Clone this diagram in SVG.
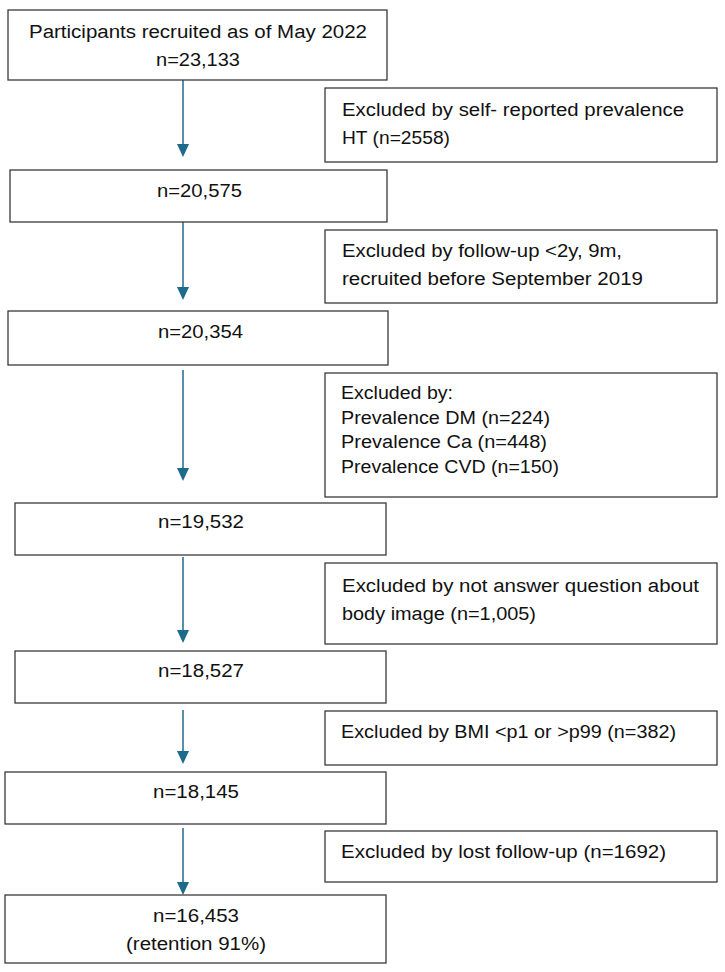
<svg xmlns="http://www.w3.org/2000/svg" width="725" height="972" viewBox="0 0 725 972">
<style>
.box{fill:#ffffff;stroke:#3a3a3a;stroke-width:1.3}
.t{font-family:"Liberation Sans",Arial,sans-serif;font-size:18px;fill:#111111}
.arr{stroke:#1c6a8c;stroke-width:1.5;fill:none}
.head{fill:#1c6a8c}
</style>
<rect width="725" height="972" fill="#ffffff"/>
<g id="connectors">
<line class="arr" x1="183" y1="80" x2="183" y2="145"/><path class="head" d="M177,144 L189,144 L183,157 Z"/>
<line class="arr" x1="183" y1="222" x2="183" y2="288"/><path class="head" d="M177,287 L189,287 L183,300 Z"/>
<line class="arr" x1="183" y1="370" x2="183" y2="469"/><path class="head" d="M177,468 L189,468 L183,481 Z"/>
<line class="arr" x1="183" y1="557" x2="183" y2="631"/><path class="head" d="M177,630 L189,630 L183,643 Z"/>
<line class="arr" x1="183" y1="710" x2="183" y2="752"/><path class="head" d="M177,751 L189,751 L183,764 Z"/>
<line class="arr" x1="183" y1="828" x2="183" y2="883"/><path class="head" d="M177,882 L189,882 L183,895 Z"/>
</g>
<g id="n1"><rect class="box" x="8" y="10" width="379" height="70"/>
<text class="t" x="29" y="38" textLength="338" lengthAdjust="spacingAndGlyphs">Participants recruited as of May 2022</text>
<text class="t" x="156" y="66" textLength="84" lengthAdjust="spacingAndGlyphs">n=23,133</text></g>
<g id="e1"><rect class="box" x="325" y="88" width="392" height="74"/>
<text class="t" x="342" y="116" textLength="342" lengthAdjust="spacingAndGlyphs">Excluded by self- reported prevalence</text>
<text class="t" x="342" y="144" textLength="108" lengthAdjust="spacingAndGlyphs">HT (n=2558)</text></g>
<g id="n2"><rect class="box" x="10" y="170" width="377" height="52"/>
<text class="t" x="157" y="197" textLength="85" lengthAdjust="spacingAndGlyphs">n=20,575</text></g>
<g id="e2"><rect class="box" x="325" y="230" width="392" height="73"/>
<text class="t" x="342" y="257" textLength="280" lengthAdjust="spacingAndGlyphs">Excluded by follow-up &lt;2y, 9m,</text>
<text class="t" x="342" y="285" textLength="301" lengthAdjust="spacingAndGlyphs">recruited before September 2019</text></g>
<g id="n3"><rect class="box" x="8" y="311" width="380" height="54"/>
<text class="t" x="158" y="338" textLength="85" lengthAdjust="spacingAndGlyphs">n=20,354</text></g>
<g id="e3"><rect class="box" x="325" y="373" width="392" height="124"/>
<text class="t" x="341" y="399" textLength="112" lengthAdjust="spacingAndGlyphs">Excluded by:</text>
<text class="t" x="341" y="424" textLength="209" lengthAdjust="spacingAndGlyphs">Prevalence DM (n=224)</text>
<text class="t" x="341" y="448" textLength="206" lengthAdjust="spacingAndGlyphs">Prevalence Ca (n=448)</text>
<text class="t" x="341" y="473" textLength="218" lengthAdjust="spacingAndGlyphs">Prevalence CVD (n=150)</text></g>
<g id="n4"><rect class="box" x="15" y="503" width="371" height="52"/>
<text class="t" x="158" y="528" textLength="86" lengthAdjust="spacingAndGlyphs">n=19,532</text></g>
<g id="e4"><rect class="box" x="325" y="563" width="392" height="81"/>
<text class="t" x="342" y="592" textLength="357" lengthAdjust="spacingAndGlyphs">Excluded by not answer question about</text>
<text class="t" x="342" y="620" textLength="194" lengthAdjust="spacingAndGlyphs">body image (n=1,005)</text></g>
<g id="n5"><rect class="box" x="15" y="651" width="371" height="52"/>
<text class="t" x="158" y="677" textLength="86" lengthAdjust="spacingAndGlyphs">n=18,527</text></g>
<g id="e5"><rect class="box" x="325" y="711" width="392" height="54"/>
<text class="t" x="341" y="738" textLength="335" lengthAdjust="spacingAndGlyphs">Excluded by BMI &lt;p1 or &gt;p99 (n=382)</text></g>
<g id="n6"><rect class="box" x="5" y="772" width="381" height="52"/>
<text class="t" x="153" y="798" textLength="86" lengthAdjust="spacingAndGlyphs">n=18,145</text></g>
<g id="e6"><rect class="box" x="325" y="831" width="392" height="51"/>
<text class="t" x="341" y="858" textLength="325" lengthAdjust="spacingAndGlyphs">Excluded by lost follow-up (n=1692)</text></g>
<g id="n7"><rect class="box" x="5" y="895" width="381" height="68"/>
<text class="t" x="153" y="922" textLength="86" lengthAdjust="spacingAndGlyphs">n=16,453</text>
<text class="t" x="126" y="950" textLength="140" lengthAdjust="spacingAndGlyphs">(retention 91%)</text></g>
</svg>
